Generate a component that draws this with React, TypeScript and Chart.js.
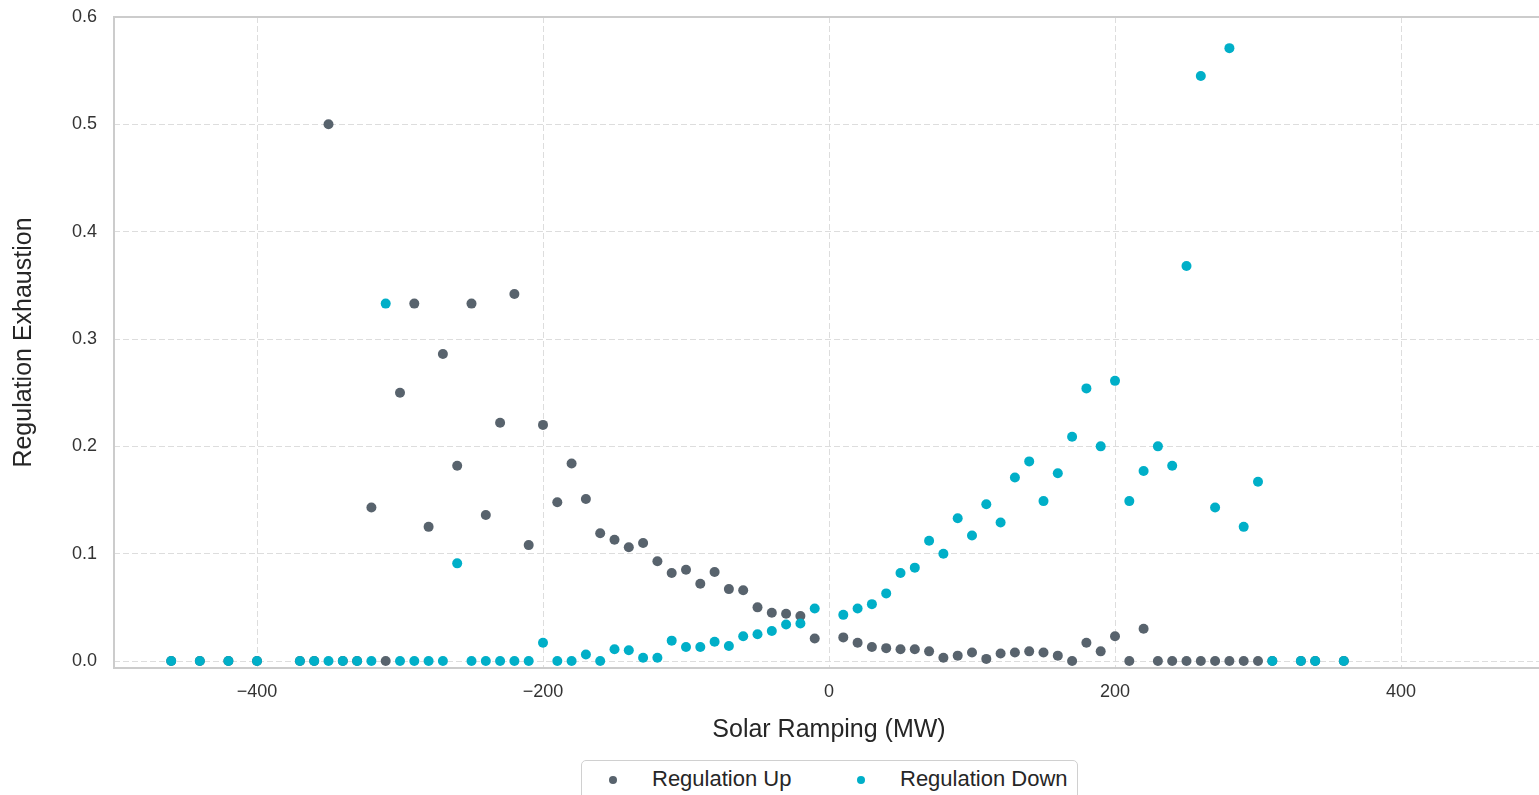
import React, { useEffect, useRef } from "react";
import { Chart, registerables } from "chart.js";

Chart.register(...registerables);

// ---- Data ----
const solarRamping = [
  -460, -440, -420, -400, -370, -360, -350, -340, -330, -320,
  -310, -300, -290, -280, -270, -260, -250, -240, -230, -220,
  -210, -200, -190, -180, -170, -160, -150, -140, -130, -120,
  -110, -100, -90, -80, -70, -60, -50, -40, -30, -20,
  -10, 10, 20, 30, 40, 50, 60, 70, 80, 90,
  100, 110, 120, 130, 140, 150, 160, 170, 180, 190,
  200, 210, 220, 230, 240, 250, 260, 270, 280, 290,
  300, 310, 330, 340, 360,
];

const regulationUp = [
  0, 0, 0, 0, 0, 0, 0.5, 0, 0, 0.143,
  0, 0.25, 0.333, 0.125, 0.286, 0.182, 0.333, 0.136, 0.222, 0.342,
  0.108, 0.22, 0.148, 0.184, 0.151, 0.119, 0.113, 0.106, 0.11, 0.093,
  0.082, 0.085, 0.072, 0.083, 0.067, 0.066, 0.05, 0.045, 0.044, 0.042,
  0.021, 0.022, 0.017, 0.013, 0.012, 0.011, 0.011, 0.009, 0.003, 0.005,
  0.008, 0.002, 0.007, 0.008, 0.009, 0.008, 0.005, 0, 0.017, 0.009,
  0.023, 0, 0.03, 0, 0, 0, 0, 0, 0, 0,
  0, 0, 0, 0, 0,
];

const regulationDown = [
  0, 0, 0, 0, 0, 0, 0, 0, 0, 0,
  0.333, 0, 0, 0, 0, 0.091, 0, 0, 0, 0,
  0, 0.017, 0, 0, 0.006, 0, 0.011, 0.01, 0.003, 0.003,
  0.019, 0.013, 0.013, 0.018, 0.014, 0.023, 0.025, 0.028, 0.034, 0.035,
  0.049, 0.043, 0.049, 0.053, 0.063, 0.082, 0.087, 0.112, 0.1, 0.133,
  0.117, 0.146, 0.129, 0.171, 0.186, 0.149, 0.175, 0.209, 0.254, 0.2,
  0.261, 0.149, 0.177, 0.2, 0.182, 0.368, 0.545, 0.143, 0.571, 0.125,
  0.167, 0, 0, 0, 0,
];

const seriesNames = ["Regulation Up", "Regulation Down"];
const seriesColors = ["#58636d", "#00afc8"];
const xTickValues = [-400, -200, 0, 200, 400];
const yTickValues = [0, 0.1, 0.2, 0.3, 0.4, 0.5, 0.6];
const xAxisTitle = "Solar Ramping (MW)";
const yAxisTitle = "Regulation Exhaustion";

const FONT = '"Liberation Sans", Arial, Helvetica, sans-serif';

const framePlugin = {
  id: "frame",
  beforeDatasetsDraw(chart: any) {
    const { ctx, chartArea } = chart;
    const { left, top, right, bottom } = chartArea;
    ctx.save();
    ctx.strokeStyle = "#cccccc";
    ctx.lineWidth = 2;
    ctx.beginPath();
    ctx.moveTo(left, bottom);
    ctx.lineTo(left, top);
    ctx.lineTo(right, top);
    ctx.lineTo(right, bottom);
    ctx.closePath();
    ctx.stroke();
    ctx.restore();
  },
};

function formatX(v: number): string {
  return v < 0 ? "\u2212" + Math.abs(v) : String(v);
}

export default function App() {
  const canvasRef = useRef<HTMLCanvasElement | null>(null);

  useEffect(() => {
    const canvas = canvasRef.current;
    if (!canvas) return;
    const upData = solarRamping.map((x, i) => ({ x, y: regulationUp[i] }));
    const downData = solarRamping.map((x, i) => ({ x, y: regulationDown[i] }));

    const chart = new Chart(canvas, {
      type: "scatter",
      data: {
        datasets: [
          {
            label: seriesNames[0],
            data: upData,
            backgroundColor: seriesColors[0],
            borderWidth: 0,
            pointRadius: 5,
            order: 1,
          },
          {
            label: seriesNames[1],
            data: downData,
            backgroundColor: seriesColors[1],
            borderWidth: 0,
            pointRadius: 5,
            order: 0,
          },
        ],
      },
      options: {
        responsive: false,
        animation: false,
        devicePixelRatio: 1,
        events: [],
        layout: { padding: { top: 17, right: 16, bottom: 50, left: 0 } },
        plugins: {
          legend: { display: false },
          tooltip: { enabled: false },
        },
        scales: {
          x: {
            type: "linear",
            min: -500,
            max: 500,
            afterBuildTicks: (scale: any) => {
              scale.ticks = xTickValues.map((value) => ({ value }));
            },
            afterFit: (scale: any) => {
              scale.height = 77;
              scale.paddingLeft = 0;
              scale.paddingRight = 0;
            },
            grid: {
              color: "#dddddd",
              lineWidth: 1,
              drawTicks: false,
            },
            border: { display: false, dash: [6, 3] },
            ticks: {
              padding: 13,
              color: "#333333",
              font: { family: FONT, size: 18 },
              callback: (v: any) => formatX(Number(v)),
              maxRotation: 0,
            },
            title: {
              display: true,
              text: xAxisTitle,
              color: "#262626",
              font: { family: FONT, size: 25 },
              padding: { top: 0, bottom: 0 },
            },
          },
          y: {
            type: "linear",
            min: -0.0065,
            max: 0.6,
            afterBuildTicks: (scale: any) => {
              scale.ticks = yTickValues.map((value) => ({ value }));
            },
            afterFit: (scale: any) => {
              scale.width = 114;
              scale.paddingTop = 0;
              scale.paddingBottom = 0;
            },
            grid: {
              color: "#dddddd",
              lineWidth: 1,
              drawTicks: false,
            },
            border: { display: false, dash: [6, 3] },
            ticks: {
              padding: 17,
              color: "#333333",
              font: { family: FONT, size: 18 },
              callback: (v: any) => Number(v).toFixed(1),
            },
            title: {
              display: true,
              text: yAxisTitle,
              color: "#262626",
              font: { family: FONT, size: 25 },
              padding: { top: 9, bottom: 0 },
            },
          },
        },
      },
      plugins: [framePlugin],
    } as any);

    return () => {
      chart.destroy();
    };
  }, []);

  const legendBox: React.CSSProperties = {
    position: "absolute",
    left: 581,
    top: 760,
    width: 497,
    height: 50,
    border: "1.5px solid #d0d0d0",
    borderRadius: 5,
    boxSizing: "border-box",
    background: "#ffffff",
    fontFamily: FONT,
    fontSize: 22,
    color: "#262626",
  };

  const marker = (cx: number, color: string): React.CSSProperties => ({
    position: "absolute",
    left: cx - 4,
    top: 19 - 4,
    width: 8,
    height: 8,
    borderRadius: "50%",
    background: color,
  });

  const label = (left: number): React.CSSProperties => ({
    position: "absolute",
    left,
    top: 6,
    lineHeight: "24px",
    whiteSpace: "nowrap",
  });

  return (
    <div
      style={{
        position: "fixed",
        left: 0,
        top: 0,
        width: "100vw",
        height: "100vh",
        overflow: "hidden",
        background: "#ffffff",
      }}
    >
      <canvas
        ref={canvasRef}
        width={1560}
        height={795}
        style={{ position: "absolute", left: 0, top: 0, width: 1560, height: 795 }}
      />
      <div style={legendBox}>
        <span style={marker(31, seriesColors[0])} />
        <span style={label(70)}>{seriesNames[0]}</span>
        <span style={marker(279, seriesColors[1])} />
        <span style={label(318)}>{seriesNames[1]}</span>
      </div>
    </div>
  );
}
